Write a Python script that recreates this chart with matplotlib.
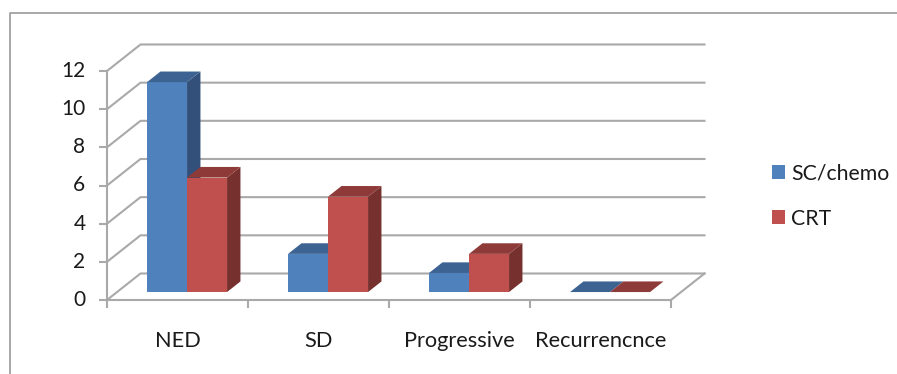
import matplotlib
matplotlib.use("Agg")
import matplotlib.pyplot as plt
from matplotlib.patches import Polygon, Patch
from matplotlib.transforms import ScaledTranslation
import numpy as np

plt.rcParams['font.family'] = ['Lato', 'DejaVu Sans']

categories = ["NED", "SD", "Progressive", "Recurrencnce"]
sc_chemo = [11, 2, 1, 0]
crt = [6, 5, 2, 0]
yticks = [0, 2, 4, 6, 8, 10, 12]

W, H = 897, 374
grey = "#a9a9a9"

# oblique offset of the back wall, in data units
depth_x = 33.5 / 141
depth_y = 26.5 / 19.08
gap = 30 / 141
bar_w = 40 / 141
d_front = 0.3
d_back = 0.7


def shift(x, y, d):
    return (x + d * depth_x, y + d * depth_y)


def bar3d(ax, x, v, front, top, side):
    f0 = shift(x, 0, d_front)
    f1 = shift(x + bar_w, 0, d_front)
    f2 = shift(x + bar_w, v, d_front)
    f3 = shift(x, v, d_front)
    b0 = shift(x + bar_w, 0, d_back)
    b1 = shift(x + bar_w, v, d_back)
    b2 = shift(x, v, d_back)
    if v > 0:
        ax.add_patch(Polygon([f1, b0, b1, f2], fc=side, ec="none", clip_on=False, zorder=3))
        ax.add_patch(Polygon([f0, f1, f2, f3], fc=front, ec="none", clip_on=False, zorder=3))
    ax.add_patch(Polygon([f3, f2, b1, b2], fc=top, ec="none", clip_on=False, zorder=3))


fig = plt.figure(figsize=(W / 100, H / 100), dpi=100)
ax = fig.add_axes([107 / W, 1 - 300 / H, 564 / W, 229 / H])
ax.set_xlim(0, len(categories))
ax.set_ylim(0, 12)
ax.patch.set_alpha(0)

# walls
for v in yticks:
    back = shift(len(categories), v, 1)
    start = shift(0, v, 1)
    ax.plot([0, start[0], back[0]], [v, start[1], back[1]], color=grey, lw=1.5,
            clip_on=False, zorder=1)
r0 = shift(len(categories), 0, 1)
ax.plot([len(categories), r0[0]], [0, r0[1]], color=grey, lw=1.5, clip_on=False, zorder=1)

for i in range(len(categories)):
    x = i + gap
    bar3d(ax, x, sc_chemo[i], "#4f81bd", "#3d6392", "#32507a")
    bar3d(ax, x + bar_w, crt[i], "#c0504d", "#8e3a38", "#76302e")

for s in ["top", "right"]:
    ax.spines[s].set_visible(False)
for s in ["left", "bottom"]:
    ax.spines[s].set_color(grey)
    ax.spines[s].set_linewidth(1.5)

ax.set_yticks(yticks)
ax.set_xticks(np.arange(len(categories) + 1))
ax.set_xticklabels([])
ax.set_xticks(np.arange(len(categories)) + 0.5, minor=True)
ax.set_xticklabels(categories, minor=True, fontsize=15.7, color="#1a1a1a")
ax.tick_params(axis="y", length=5.5, width=1.5, color=grey, labelsize=15, labelcolor="#1a1a1a", pad=10)
ax.tick_params(axis="x", which="major", length=6, width=1.5, color=grey)
ax.tick_params(axis="x", which="minor", length=0, pad=22)

# nudge the value labels up a little
nudge = ScaledTranslation(0, 1.5 / 72, fig.dpi_scale_trans)
for lab in ax.get_yticklabels():
    lab.set_transform(lab.get_transform() + nudge)

# frame of the chart, open at the bottom
fig.add_artist(plt.Line2D([9.5 / W, 9.5 / W, 1], [0, 1 - 12.5 / H, 1 - 12.5 / H],
                          color="#9a9a9a", lw=1.2))

handles = [Patch(fc="#4f81bd", label="SC/chemo"), Patch(fc="#c0504d", label="CRT")]
fig.legend(handles=handles, loc="center left", bbox_to_anchor=(771.5 / W, 1 - 196 / H),
           frameon=False, fontsize=15.3, handlelength=0.62, handleheight=0.62,
           handletextpad=0.3, labelspacing=1.2, labelcolor="#1a1a1a",
           borderpad=0, borderaxespad=0)

fig.savefig("out.png", dpi=100)
